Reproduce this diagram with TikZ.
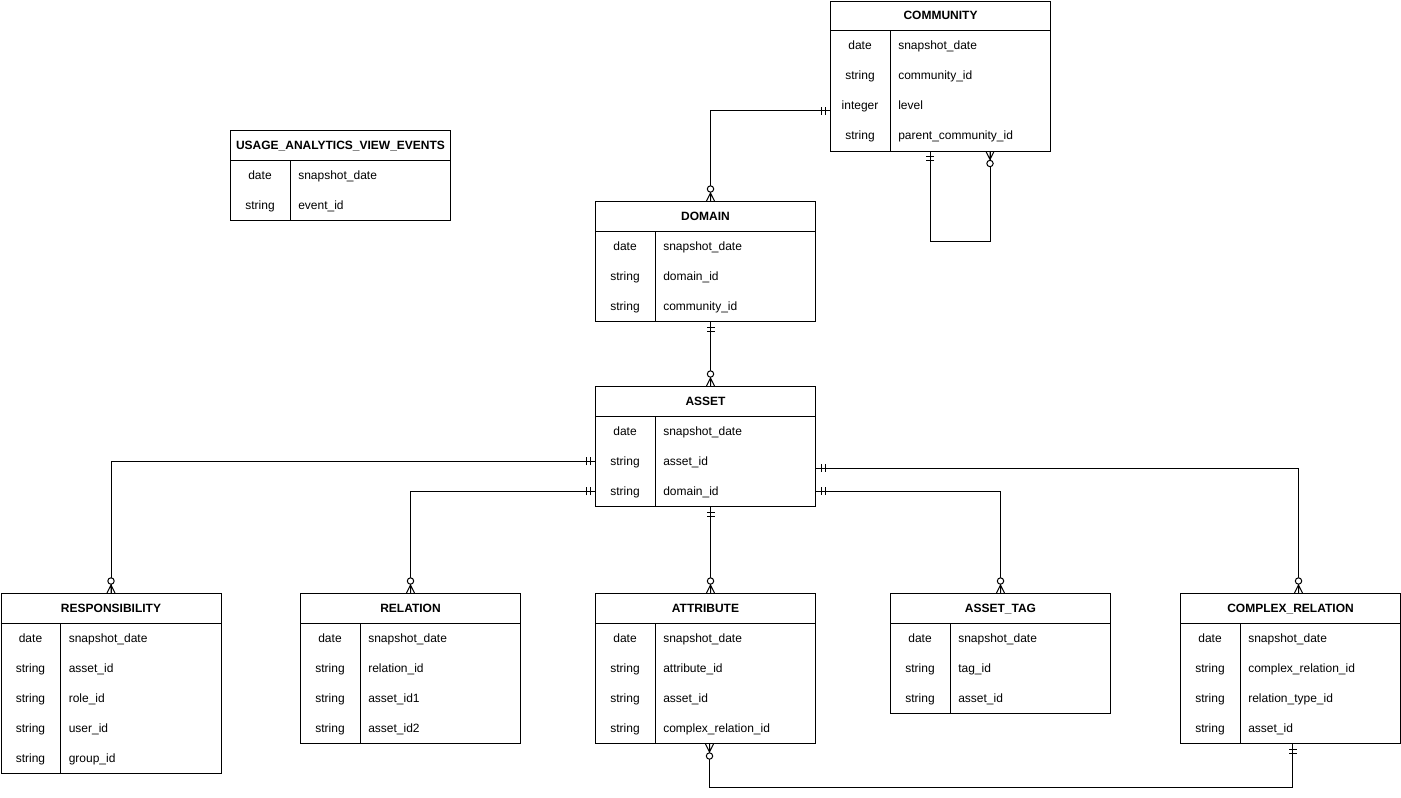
\documentclass[tikz,border=0pt]{standalone}
\usepackage{fontspec}
\setmainfont{Liberation Sans}
\usetikzlibrary{calc}
\tikzset{
  x=0.75pt, y=-0.75pt,
  conn/.style={line width=0.75pt, black},
  tbl/.style={draw, line width=0.75pt, minimum width=165pt, anchor=north west, inner sep=0pt},
  cell/.style={inner sep=0pt, text height=6.5pt, text depth=0pt, font=\fontsize{9}{11}\selectfont},
  hdr/.style={cell, font=\fontsize{9}{11}\selectfont\bfseries},
  onemark/.pic={\draw[conn] (5,-4)--(5,4) (9,-4)--(9,4);},
  zmmark/.pic={\draw[conn] (0,-4)--(8,0)--(0,4) (0,0)--(8,0);
               \draw[conn, fill=white] (12,0) circle[radius=2.4pt];}
}
\newcommand\ertable[6]{%
  \node[tbl, minimum height={(#4+1)*30*0.75pt}] (#1) at (#2,#3) {};
  \draw[line width=0.75pt] ($(#1.north west)+(0,30)$) -- ($(#1.north east)+(0,30)$);
  \draw[line width=0.75pt] ($(#1.north west)+(60,30)$) -- ($(#1.south west)+(60,0)$);
  \node[hdr] (#1-t) at ($(#1.north)+(0,15)$) {#5};
  \foreach \ty/\fd [count=\i] in {#6} {
    \node[cell] (#1-k\i) at ($(#1.north west)+(30,15+30*\i)$) {\ty};
    \node[cell, anchor=west] (#1-f\i) at ($(#1.north west)+(68,15+30*\i)$) {\fd};
  }%
}
\begin{document}
\begin{tikzpicture}
\useasboundingbox (0,0) rectangle (1401,797);

\ertable{comm}{830}{0.5}{4}{COMMUNITY}{date/snapshot\_date, string/community\_id, integer/level, string/parent\_community\_id}
\ertable{usage}{230}{130}{2}{USAGE\_ANALYTICS\_VIEW\_EVENTS}{date/snapshot\_date, string/event\_id}
\ertable{domain}{595}{201}{3}{DOMAIN}{date/snapshot\_date, string/domain\_id, string/community\_id}
\ertable{asset}{595}{386}{3}{ASSET}{date/snapshot\_date, string/asset\_id, string/domain\_id}
\ertable{resp}{0.5}{593}{5}{RESPONSIBILITY}{date/snapshot\_date, string/asset\_id, string/role\_id, string/user\_id, string/group\_id}
\ertable{rel}{300}{593}{4}{RELATION}{date/snapshot\_date, string/relation\_id, string/asset\_id1, string/asset\_id2}
\ertable{attr}{595}{593}{4}{ATTRIBUTE}{date/snapshot\_date, string/attribute\_id, string/asset\_id, string/complex\_relation\_id}
\ertable{tag}{890}{593}{3}{ASSET\_TAG}{date/snapshot\_date, string/tag\_id, string/asset\_id}
\ertable{cx}{1180}{593}{4}{COMPLEX\_RELATION}{date/snapshot\_date, string/complex\_relation\_id, string/relation\_type\_id, string/asset\_id}

% connection points
\coordinate (c1a) at ($(comm.north west)+(0,110)$);
\coordinate (c1b) at ($(domain.north)+(5,0)$);
\coordinate (c2a) at ($(comm.south west)+(100,0)$);
\coordinate (c2b) at ($(comm.south west)+(160,0)$);
\coordinate (c3a) at ($(domain.south)+(5,0)$);
\coordinate (c3b) at ($(asset.north)+(5,0)$);
\coordinate (c4a) at ($(asset.north west)+(0,75)$);
\coordinate (c4b) at (resp.north);
\coordinate (c5a) at ($(asset.north west)+(0,105)$);
\coordinate (c5b) at (rel.north);
\coordinate (c6a) at ($(asset.south)+(5,0)$);
\coordinate (c6b) at ($(attr.north)+(5,0)$);
\coordinate (c7a) at ($(asset.north east)+(0,105)$);
\coordinate (c7b) at (tag.north);
\coordinate (c8a) at ($(asset.north east)+(0,82)$);
\coordinate (c8b) at ($(cx.north)+(8,0)$);
\coordinate (c9a) at ($(attr.south)+(4,0)$);
\coordinate (c9b) at ($(cx.south)+(2,0)$);

% connectors
\draw[conn] (c1a) -| (c1b);
\draw[conn] (c2a) -- ++(0,90) -| (c2b);
\draw[conn] (c3a) -- (c3b);
\draw[conn] (c4a) -| (c4b);
\draw[conn] (c5a) -| (c5b);
\draw[conn] (c6a) -- (c6b);
\draw[conn] (c7a) -| (c7b);
\draw[conn] (c8a) -| (c8b);
\draw[conn] (c9a) -- ++(0,43) -| (c9b);

% markers
\pic[rotate=180] at (c1a) {onemark};
\pic[rotate=90]  at (c1b) {zmmark};
\pic[rotate=-90] at (c2a) {onemark};
\pic[rotate=-90] at (c2b) {zmmark};
\pic[rotate=-90] at (c3a) {onemark};
\pic[rotate=90]  at (c3b) {zmmark};
\pic[rotate=180] at (c4a) {onemark};
\pic[rotate=90]  at (c4b) {zmmark};
\pic[rotate=180] at (c5a) {onemark};
\pic[rotate=90]  at (c5b) {zmmark};
\pic[rotate=-90] at (c6a) {onemark};
\pic[rotate=90]  at (c6b) {zmmark};
\pic[rotate=0]   at (c7a) {onemark};
\pic[rotate=90]  at (c7b) {zmmark};
\pic[rotate=0]   at (c8a) {onemark};
\pic[rotate=90]  at (c8b) {zmmark};
\pic[rotate=-90] at (c9a) {zmmark};
\pic[rotate=-90] at (c9b) {onemark};
\end{tikzpicture}
\end{document}
